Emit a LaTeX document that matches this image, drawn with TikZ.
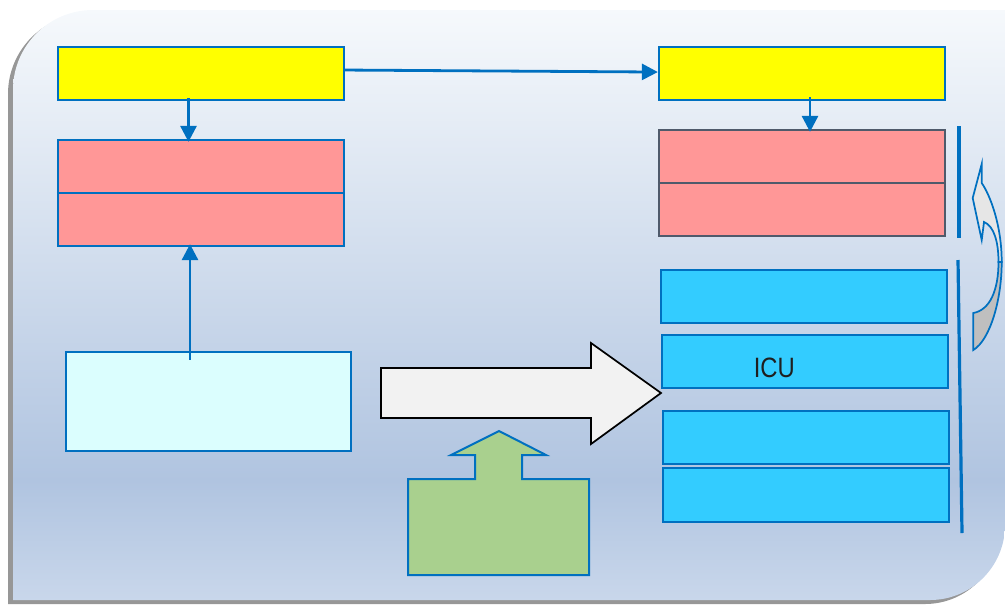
\documentclass[tikz,border=0pt]{standalone}
\usepackage{fontspec}
\newfontfamily\icufont[FakeStretch=0.85]{Liberation Sans}
\usetikzlibrary{arrows.meta,fit,calc}
\definecolor{bdblue}{HTML}{0070C0}
\definecolor{yel}{HTML}{FFFF00}
\definecolor{pinkc}{HTML}{FF9797}
\definecolor{slate}{HTML}{4F5A6B}
\definecolor{lcyan}{HTML}{DBFEFE}
\definecolor{skyb}{HTML}{33CCFF}
\definecolor{greenc}{HTML}{A9D08E}
\definecolor{arrfill}{HTML}{F2F2F2}
\definecolor{bgtop}{HTML}{F6F9FC}
\definecolor{bgmid}{HTML}{B0C4E0}
\definecolor{bgbot}{HTML}{C9D7EB}
\definecolor{bgshadow}{HTML}{979797}
\definecolor{curlight}{HTML}{E6E6E6}
\definecolor{curdark}{HTML}{BFBFBF}
\begin{document}
\begin{tikzpicture}[x=0.75pt,y=-0.75pt,
  conn/.style={draw=bdblue,line width=2.1pt,-{Triangle[length=12pt,width=12pt]}},
  box/.style={rectangle,draw=bdblue,line width=1.7pt,inner sep=0pt},
  bracket/.style={draw=bdblue,line width=2.4pt},
  divider/.style={line width=1.7pt}]
\useasboundingbox (0,0) rectangle (1005,604);
% background panel with shadow
\fill[bgshadow,shift={(-5,4)}] (13,600) -- (13,90) .. controls (13,45.8) and (48.8,10) .. (93,10) -- (1005,10) -- (1005,525) .. controls (1005,566.4) and (971.4,600) .. (930,600) -- cycle;
\begin{scope}
\clip (13,600) -- (13,90) .. controls (13,45.8) and (48.8,10) .. (93,10) -- (1005,10) -- (1005,525) .. controls (1005,566.4) and (971.4,600) .. (930,600) -- cycle;
\shade[top color=bgtop,bottom color=bgmid] (0,9) rectangle (1005,480.5);
\shade[top color=bgmid,bottom color=bgbot] (0,480) rectangle (1005,601);
\end{scope}
% boxes
\node[box,fill=yel,fit={(58,47)(344,100)}] (y1) {};
\node[box,fill=yel,fit={(659,47)(945,100)}] (y2) {};
\node[box,fill=pinkc,fit={(58,140)(344,246)}] (p1) {};
\node[box,draw=slate,fill=pinkc,fit={(659,130)(945,236)}] (p2) {};
\draw[divider,bdblue] (p1.west) -- (p1.east);
\draw[divider,slate] (p2.west) -- (p2.east);
\node[box,fill=lcyan,fit={(66,352)(351,451)}] (c1) {};
\node[box,fill=skyb,fit={(661,270)(947,323)}] (b1) {};
\node[box,fill=skyb,fit={(662,335)(948,388)}] (b2) {};
\node[box,fill=skyb,fit={(663,411)(949,464)}] (b3) {};
\node[box,fill=skyb,fit={(663,468)(949,522)}] (b4) {};
\node[anchor=base,inner sep=0pt,text=black!88,font=\icufont\fontsize{21}{24}\selectfont] (icu) at (774.3,377) {ICU};
% connectors
\draw[conn] ([yshift=2.6pt]y1.east) -- ([yshift=1.1pt]y2.west);
\coordinate (a2) at ($(y1.south)+(-12.5,-3)$);
\draw[conn] (a2) -- ($(a2 |- p1.north)+(0,3)$);
\coordinate (a3) at ($(c1.north)+(-18.5,9)$);
\draw[conn] (a3) -- ($(a3 |- p1.south)+(0,-3)$);
\coordinate (a4) at ($(y2.south)+(8,-4)$);
\draw[conn] (a4) -- ($(a4 |- p2.north)+(0,3)$);
% brackets
\coordinate (v1a) at (959,126);
\coordinate (v1b) at (959,238);
\draw[bracket] (v1a) -- (v1b);
\coordinate (v2a) at (958,260);
\coordinate (v2b) at (962,533);
\draw[bracket] (v2a) -- (v2b);
% block arrow
\draw[black,line width=1.3pt,fill=arrfill,line join=miter] (381,368) -- (591,368) -- (591,343) -- (661,393) -- (591,444) -- (591,418) -- (381,418) -- cycle;
% green up arrow
\draw[bdblue,line width=1.5pt,fill=greenc,line join=miter] (408,479) -- (475,479) -- (475,455) -- (451,455) -- (499,431) -- (546,455) -- (522,455) -- (522,479) -- (589,479) -- (589,575) -- (408,575) -- cycle;
% curved arrow
\draw[bdblue,line width=1.3pt,fill=curlight] (981.7,164) -- (972.7,198) -- (981.7,240) -- (984,222) .. controls (994,226) and (998.5,242) .. (998.5,262) -- (1001.7,262) .. controls (1001.7,225) and (990,195) .. (981.7,183) -- cycle;
\draw[bdblue,line width=1.3pt,fill=curdark] (998.5,262) .. controls (998.5,290) and (990,310) .. (973.3,313) -- (973.3,350) .. controls (990,340) and (1001.7,300) .. (1001.7,262) -- cycle;
\end{tikzpicture}
\end{document}
